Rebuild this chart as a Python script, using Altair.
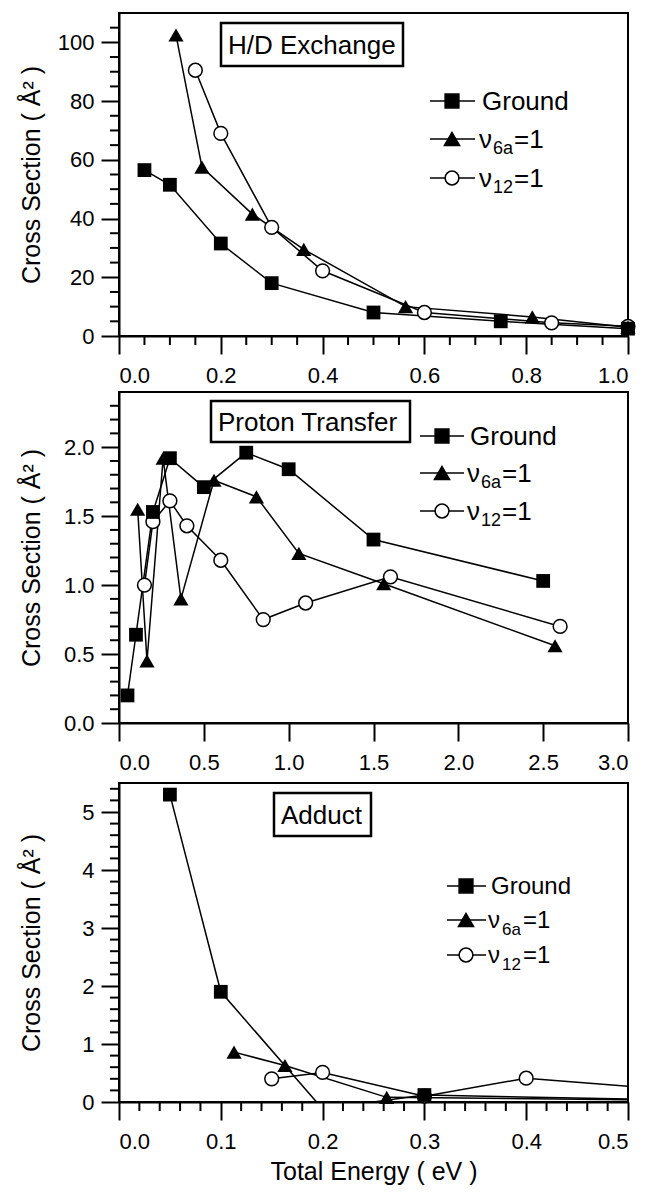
import altair as alt
import pandas as pd

FONT = "Liberation Sans"

# ---------------- Panel 1: H/D Exchange ----------------
hd_ground_x = [0.05, 0.1, 0.2, 0.3, 0.5, 0.75, 1.0]
hd_ground_y = [56.5, 51.5, 31.5, 18.0, 8.0, 5.0, 2.5]
hd_v6a_x = [0.112, 0.163, 0.262, 0.363, 0.563, 0.812, 1.0]
hd_v6a_y = [102.5, 57.5, 41.5, 29.5, 10.0, 6.5, 3.0]
hd_v12_x = [0.15, 0.2, 0.3, 0.4, 0.6, 0.85, 1.0]
hd_v12_y = [90.5, 69.0, 37.0, 22.2, 8.0, 4.5, 3.3]
hd_x_major = [0.0, 0.2, 0.4, 0.6, 0.8, 1.0]
hd_x_minor = [0.05, 0.1, 0.15, 0.25, 0.3, 0.35, 0.45, 0.5, 0.55, 0.65, 0.7,
              0.75, 0.85, 0.9, 0.95]
hd_y_major = [0, 20, 40, 60, 80, 100]
hd_y_minor = [5, 10, 15, 25, 30, 35, 45, 50, 55, 65, 70, 75, 85, 90, 95, 105]

# ---------------- Panel 2: Proton Transfer ----------------
pt_ground_x = [0.05, 0.1, 0.2, 0.3, 0.5, 0.75, 1.0, 1.5, 2.5]
pt_ground_y = [0.20, 0.64, 1.53, 1.92, 1.71, 1.96, 1.84, 1.33, 1.03]
pt_v6a_x = [0.11, 0.165, 0.26, 0.365, 0.56, 0.81, 1.06, 1.56, 2.57]
pt_v6a_y = [1.55, 0.45, 1.92, 0.90, 1.76, 1.64, 1.23, 1.01, 0.56]
pt_v12_x = [0.15, 0.2, 0.3, 0.4, 0.6, 0.85, 1.1, 1.6, 2.6]
pt_v12_y = [1.00, 1.46, 1.61, 1.43, 1.18, 0.75, 0.87, 1.06, 0.70]
pt_x_major = [0.0, 0.5, 1.0, 1.5, 2.0, 2.5, 3.0]
pt_x_minor = []
pt_y_major = [0.0, 0.5, 1.0, 1.5, 2.0]
pt_y_minor = [0.1, 0.2, 0.3, 0.4, 0.6, 0.7, 0.8, 0.9, 1.1, 1.2, 1.3, 1.4,
              1.6, 1.7, 1.8, 1.9, 2.1, 2.2, 2.3]

# ---------------- Panel 3: Adduct ----------------
ad_ground_x = [0.05, 0.1, 0.2, 0.3, 0.6]
ad_ground_y = [5.3, 1.9, -0.12, 0.12, 0.02]
ad_v6a_x = [0.113, 0.163, 0.263, 0.6]
ad_v6a_y = [0.86, 0.63, 0.08, 0.02]
ad_v12_x = [0.15, 0.2, 0.3, 0.4, 0.6]
ad_v12_y = [0.40, 0.51, 0.10, 0.41, 0.13]
ad_x_major = [0.0, 0.1, 0.2, 0.3, 0.4, 0.5]
ad_x_minor = [0.02, 0.04, 0.06, 0.08, 0.12, 0.14, 0.16, 0.18, 0.22, 0.24,
              0.26, 0.28, 0.32, 0.34, 0.36, 0.38, 0.42, 0.44, 0.46, 0.48]
ad_y_major = [0, 1, 2, 3, 4, 5]
ad_y_minor = [0.2, 0.4, 0.6, 0.8, 1.2, 1.4, 1.6, 1.8, 2.2, 2.4, 2.6, 2.8,
              3.2, 3.4, 3.6, 3.8, 4.2, 4.4, 4.6, 4.8, 5.2, 5.4]

series_names = ["Ground", "v6a", "v12"]

ONE = pd.DataFrame({"k": [0]})
MAJ = 18
MIN = 9


def x_axis(major, fmt, title=None):
    return alt.Axis(values=major, format=fmt, tickSize=MAJ, labelPadding=11,
                    labelOverlap=False, grid=False, orient="bottom",
                    title=title, titlePadding=7)


def y_axis(major, fmt, title):
    return alt.Axis(values=major, format=fmt, tickSize=MAJ, labelPadding=7,
                    labelOverlap=False, grid=False, orient="left",
                    title=title, titleX=-88, titleBaseline="middle")


def panel(data, xdom, ydom, xaxis, yaxis, xminor, yminor, w, h, box, legend,
          clip=False):
    sx = alt.Scale(domain=xdom, nice=False, zero=False)
    sy = alt.Scale(domain=ydom, nice=False, zero=False)
    frames = []
    for name, (xs, ys) in zip(series_names, data):
        frames.append(pd.DataFrame({"x": xs, "y": ys, "s": name,
                                    "i": list(range(len(xs)))}))
    df = pd.concat(frames, ignore_index=True)
    X = alt.X("x:Q", scale=sx, axis=xaxis)
    Y = alt.Y("y:Q", scale=sy, axis=yaxis)

    layers = []
    layers.append(
        alt.Chart(df).mark_line(color="black", strokeWidth=1.5, clip=clip)
        .encode(x=X, y=Y, detail="s:N", order="i:Q")
    )
    # minor ticks, placed through the shared scales
    if xminor:
        layers.append(alt.Chart(pd.DataFrame({"x": xminor})).mark_rule(
            color="black", strokeWidth=2).encode(
            x=X, y=alt.value(h), y2=alt.value(h + MIN)))
    if yminor:
        layers.append(alt.Chart(pd.DataFrame({"y": yminor})).mark_rule(
            color="black", strokeWidth=2).encode(
            y=Y, x=alt.value(0), x2=alt.value(-MIN)))

    inside = df[(df.x >= xdom[0]) & (df.x <= xdom[1]) &
                (df.y >= ydom[0]) & (df.y <= ydom[1])]
    circ = inside[inside.s == "v12"]
    tri = inside[inside.s == "v6a"]
    sq = inside[inside.s == "Ground"]
    layers.append(alt.Chart(circ).mark_point(
        shape="circle", filled=True, fill="white", stroke="black",
        strokeWidth=1.5, size=190, opacity=1).encode(x=X, y=Y))
    layers.append(alt.Chart(tri).mark_point(
        shape="triangle-up", filled=True, color="black", size=230,
        opacity=1).encode(x=X, y=Y))
    layers.append(alt.Chart(sq).mark_point(
        shape="square", filled=True, color="black", size=190,
        opacity=1).encode(x=X, y=Y))

    # title box
    bx0, bx1, by0, by1, btxt, bfs = box
    layers.append(alt.Chart(ONE).mark_rect(
        fill="white", stroke="black", strokeWidth=2.5).encode(
        x=alt.value(bx0), x2=alt.value(bx1), y=alt.value(by0), y2=alt.value(by1)))
    layers.append(alt.Chart(ONE).mark_text(
        text=btxt, align="left", baseline="middle", font=FONT, fontSize=bfs,
        color="black").encode(x=alt.value(bx0 + 7), y=alt.value((by0 + by1) / 2 + 1)))

    # legend
    rows, lx0, lx1, mx, tx, fs = legend
    shapes = [("square", "black", 190), ("triangle-up", "black", 230),
              ("circle", "white", 190)]
    subs = [None, "6a", "12"]
    for k, yy in enumerate(rows):
        layers.append(alt.Chart(ONE).mark_rule(color="black", strokeWidth=1.5)
                      .encode(x=alt.value(lx0), x2=alt.value(lx1), y=alt.value(yy)))
        shp, fill, sz = shapes[k]
        layers.append(alt.Chart(ONE).mark_point(
            shape=shp, filled=True, fill=fill, stroke="black", strokeWidth=1.5,
            size=sz, opacity=1).encode(x=alt.value(mx), y=alt.value(yy)))
        if subs[k] is None:
            layers.append(alt.Chart(ONE).mark_text(
                text="Ground", align="left", baseline="middle", font=FONT,
                fontSize=fs, color="black").encode(x=alt.value(tx), y=alt.value(yy + 1)))
        else:
            layers.append(alt.Chart(ONE).mark_text(
                text="ν", align="left", baseline="middle", font=FONT,
                fontSize=fs, color="black").encode(x=alt.value(tx - 3), y=alt.value(yy + 1)))
            layers.append(alt.Chart(ONE).mark_text(
                text=subs[k], align="left", baseline="middle", font=FONT,
                fontSize=round(fs * 0.7), color="black").encode(
                x=alt.value(tx + 11), y=alt.value(yy + 10)))
            layers.append(alt.Chart(ONE).mark_text(
                text="=1", align="left", baseline="middle", font=FONT,
                fontSize=fs, color="black").encode(x=alt.value(tx + 32), y=alt.value(yy + 1)))
    return alt.layer(*layers).properties(width=w, height=h)


YTITLE = "Cross Section ( Å² )"

p1 = panel(
    [(hd_ground_x, hd_ground_y), (hd_v6a_x, hd_v6a_y), (hd_v12_x, hd_v12_y)],
    [0, 1.0], [0, 110],
    x_axis(hd_x_major, ".1f"), y_axis(hd_y_major, "d", YTITLE),
    hd_x_minor, hd_y_minor,
    509, 323,
    (102, 284, 10, 53, "H/D Exchange", 26),
    ([88, 126, 165], 311, 356, 333, 363, 26),
)
p2 = panel(
    [(pt_ground_x, pt_ground_y), (pt_v6a_x, pt_v6a_y), (pt_v12_x, pt_v12_y)],
    [0, 3.0], [0, 2.4],
    x_axis(pt_x_major, ".1f"), y_axis(pt_y_major, ".1f", YTITLE),
    pt_x_minor, pt_y_minor,
    509, 331,
    (92, 291, 9, 50, "Proton Transfer", 26),
    ([44, 81, 119], 301, 345, 323, 351, 26),
)
p3 = panel(
    [(ad_ground_x, ad_ground_y), (ad_v6a_x, ad_v6a_y), (ad_v12_x, ad_v12_y)],
    [0, 0.5], [0, 5.5],
    x_axis(ad_x_major, ".1f", "Total Energy ( eV )"), y_axis(ad_y_major, "d", YTITLE),
    ad_x_minor, ad_y_minor,
    509, 319,
    (155, 252, 10, 53, "Adduct", 26),
    ([103, 137, 172], 328, 367, 347, 372, 24),
    clip=True,
)

chart = alt.vconcat(alt.vconcat(p1, p2, spacing=4), p3, spacing=8).properties(
    padding={"left": 18, "top": 12, "right": 5, "bottom": 0},
    background="white",
).configure_view(
    stroke="black", strokeWidth=2
).configure_axis(
    domainColor="black", domainWidth=2, tickColor="black", tickWidth=2,
    labelFont=FONT, labelFontSize=22, labelColor="black",
    titleFont=FONT, titleFontSize=25, titleColor="black", titleFontWeight="normal",
)

chart.save("out.html", embed_options={"renderer": "svg", "actions": False})
